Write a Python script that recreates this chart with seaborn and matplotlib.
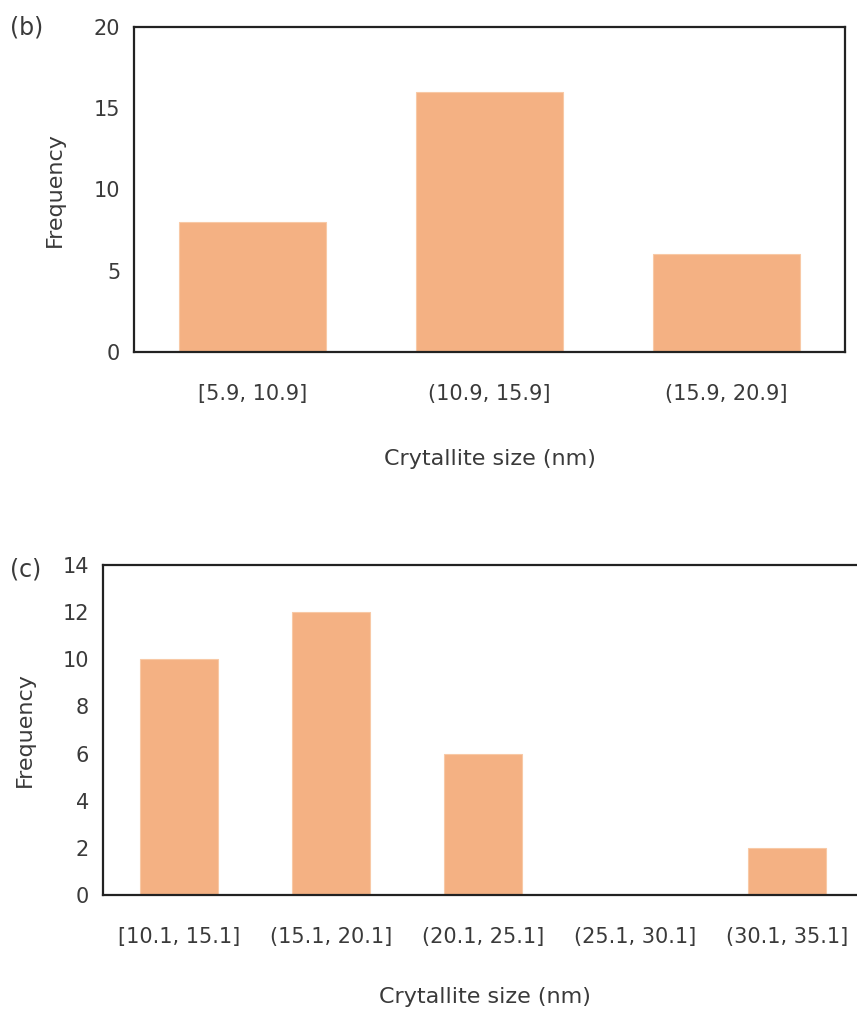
import matplotlib
matplotlib.use("Agg")
import matplotlib.pyplot as plt
import seaborn as sns
import pandas as pd

# Panel (b)
cats_b = ["[5.9, 10.9]", "(10.9, 15.9]", "(15.9, 20.9]"]
freq_b = [8, 16, 6]
yticks_b = [0, 5, 10, 15, 20]

# Panel (c)
cats_c = ["[10.1, 15.1]", "(15.1, 20.1]", "(20.1, 25.1]", "(25.1, 30.1]", "(30.1, 35.1]"]
freq_c = [10, 12, 6, 0, 2]
yticks_c = [0, 2, 4, 6, 8, 10, 12, 14]

sns.set_theme(style="white")
plt.rcParams['font.family'] = ['DejaVu Sans']

bar_color = "#F4B183"
txt_color = "#3a3a3a"
fs = 15
fs_lab = 16

fig = plt.figure(figsize=(8.57, 10.10), dpi=100)

def draw(ax, cats, vals, yticks, width):
    df = pd.DataFrame({"cat": cats, "freq": vals})
    sns.barplot(data=df, x="cat", y="freq", color=bar_color, width=width,
                saturation=1, edgecolor="#F8C9A6", linewidth=0.8, ax=ax)
    ax.set_xlim(-0.5, len(cats) - 0.5)
    ax.set_ylim(yticks[0], yticks[-1])
    ax.set_yticks(yticks)
    ax.set_xlabel("")
    ax.set_ylabel("")
    ax.tick_params(axis="both", length=0, labelsize=fs, colors=txt_color)
    ax.tick_params(axis="x", pad=23)
    ax.tick_params(axis="y", pad=10)
    for s in ax.spines.values():
        s.set_visible(True)
        s.set_color("#222222")
        s.set_linewidth(1.6)

ax1 = fig.add_axes([0.1564, 0.6515, 0.8296, 0.3218])
draw(ax1, cats_b, freq_b, yticks_b, 0.62)
ax2 = fig.add_axes([0.1202, 0.1139, 0.8868, 0.3267])
draw(ax2, cats_c, freq_c, yticks_c, 0.51)

fig.text(10 / 857, 1 - 28 / 1010, "(b)", fontsize=17, color=txt_color, ha="left", va="center")
fig.text(10 / 857, 1 - 570 / 1010, "(c)", fontsize=17, color=txt_color, ha="left", va="center")
fig.text(55 / 857, 1 - 190 / 1010, "Frequency", fontsize=fs_lab, color=txt_color, rotation=90, ha="center", va="center")
fig.text(25 / 857, 1 - 730 / 1010, "Frequency", fontsize=fs_lab, color=txt_color, rotation=90, ha="center", va="center")
fig.text(490 / 857, 1 - 459 / 1010, "Crytallite size (nm)", fontsize=fs_lab, color=txt_color, ha="center", va="center")
fig.text(485 / 857, 1 - 997 / 1010, "Crytallite size (nm)", fontsize=fs_lab, color=txt_color, ha="center", va="center")

fig.savefig("out.png", dpi=100)
